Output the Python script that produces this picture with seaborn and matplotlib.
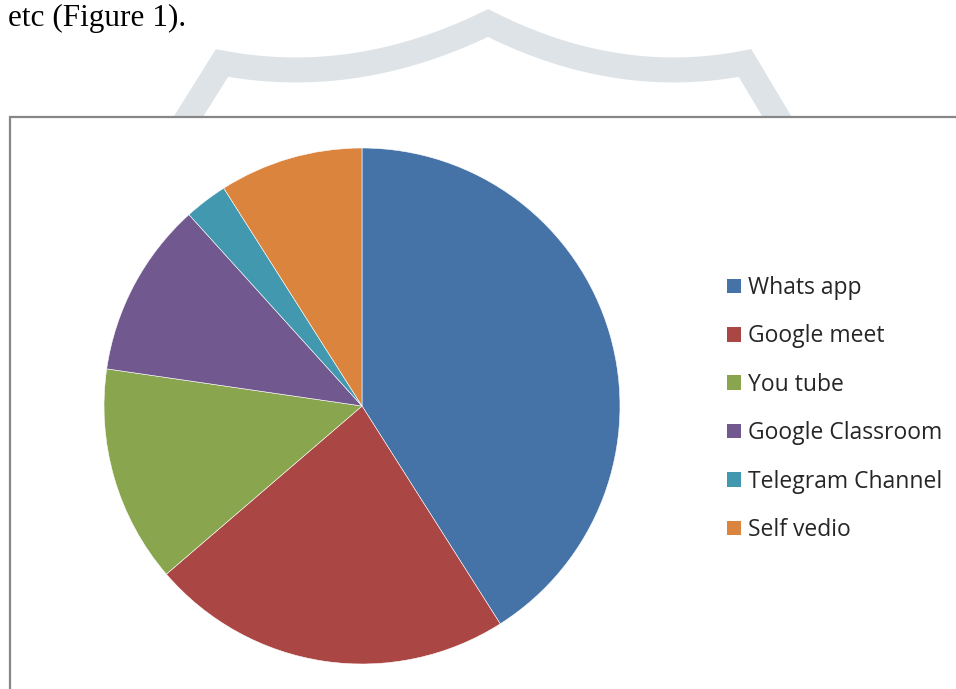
"""Pie chart of platforms used for online teaching (Figure 1)."""

import matplotlib.pyplot as plt
import numpy as np
import seaborn as sns
from matplotlib.patches import Patch, Rectangle

platforms = ["Whats app", "Google meet", "You tube", "Google Classroom",
             "Telegram Channel", "Self vedio"]
shares = [41.0, 22.7, 13.6, 11.0, 2.7, 9.0]
slice_colors = ["#4572A7", "#AA4643", "#89A54E", "#71588F", "#4198AF", "#DB843D"]

sns.set_theme(style="white")
plt.rcParams["font.family"] = ["Open Sans", "DejaVu Sans"]

W, H = 956, 689
fig = plt.figure(figsize=(W / 100, H / 100), dpi=100)

# background layer: page text, watermark and chart frame (pixel coordinates)
bg = fig.add_axes([0, 0, 1, 1], zorder=0)
bg.set_xlim(0, W)
bg.set_ylim(H, 0)
bg.axis("off")

bg.text(8, 26, "etc (Figure 1).", fontsize=22.5, family="Liberation Serif",
        color="black", va="baseline", ha="left")


def sag(p0, p1, dip, n=40):
    t = np.linspace(0, 1, n)
    mid = ((p0[0] + p1[0]) / 2, max(p0[1], p1[1]) + dip)
    x = (1 - t) ** 2 * p0[0] + 2 * (1 - t) * t * mid[0] + t ** 2 * p1[0]
    y = (1 - t) ** 2 * p0[1] + 2 * (1 - t) * t * mid[1] + t ** 2 * p1[1]
    return x, y


left_x, left_y = sag((222, 63), (488, 23), 25)
right_x, right_y = sag((488, 23), (745, 63), 25)
wx = np.concatenate([[180], left_x, right_x, [785]])
wy = np.concatenate([[130], left_y, right_y, [130]])
bg.plot(wx, wy, color="#dde3e6", lw=18, solid_joinstyle="miter", zorder=1)

bg.add_patch(Rectangle((10, 117), 1000, 700, facecolor="white",
                       edgecolor="#878787", lw=1.6, zorder=2))

# pie
cx, cy, r = 362, 406, 258
ax = fig.add_axes([(cx - r) / W, (H - cy - r) / H, 2 * r / W, 2 * r / H], zorder=1)
palette = sns.color_palette(slice_colors)
ax.pie(shares, colors=palette, startangle=90, counterclock=False,
       radius=1, wedgeprops=dict(linewidth=0.4, edgecolor="white"))
ax.set_xlim(-1, 1)
ax.set_ylim(-1, 1)
ax.set_aspect("equal")
ax.axis("off")

handles = [Patch(facecolor=c, edgecolor="none") for c in palette]
fig.legend(handles, platforms, loc="upper left",
           bbox_to_anchor=(727 / W, 1 - 276 / H), frameon=False,
           fontsize=16.5, handlelength=0.6, handleheight=0.6,
           handletextpad=0.3, labelspacing=1.065, borderpad=0, borderaxespad=0)

fig.savefig("out.png", dpi=100)
